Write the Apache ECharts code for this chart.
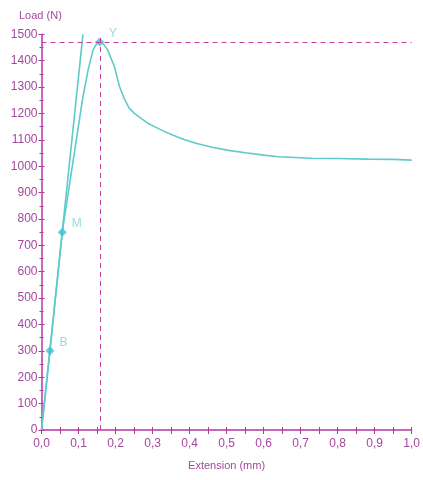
<!DOCTYPE html>
<html>
<head>
<meta charset="utf-8">
<title>Load / Extension</title>
<script src="https://cdn.jsdelivr.net/npm/echarts@6.0.0/dist/echarts.min.js"></script>
<style>
  html, body { margin: 0; padding: 0; background: #fff; }
</style>
</head>
<body>
<div id="main" style="width:423px;height:480px;"></div>
<script type="text/javascript">
// load curve (extension mm, load N)
var curveX = [0, 0.023, 0.056, 0.080, 0.105, 0.112, 0.126, 0.139, 0.148, 0.157, 0.168, 0.179, 0.197, 0.211, 0.224, 0.236, 0.251, 0.270, 0.287, 0.305, 0.330, 0.354, 0.385, 0.417, 0.461, 0.505, 0.551, 0.600, 0.640, 0.730, 0.800, 0.882, 0.950, 1.000];
var curveY = [0, 300, 750, 970, 1200, 1263, 1365, 1440, 1462, 1471, 1462, 1440, 1377, 1301, 1255, 1222, 1200, 1180, 1163, 1150, 1133, 1118, 1101, 1087, 1072, 1060, 1051, 1042, 1036, 1030, 1029, 1027, 1026, 1023];

// straight modulus line
var slopeX = [0, 0.112];
var slopeY = [0, 1500];

// marked points
var pointNames = ['B', 'M', 'Y'];
var pointX = [0.023, 0.056, 0.157];
var pointY = [300, 750, 1471];

var axisCol = '#b8369f';
var textCol = '#a4489c';
var lineCol = '#5fcaca';
var markCol = '#3dbfd2';
var dashCol = '#c8409f';

function zip(a, b) {
  var out = [];
  for (var i = 0; i < a.length; i++) out.push([a[i], b[i]]);
  return out;
}

var chart = echarts.init(document.getElementById('main'));

var pts = [];
for (var i = 0; i < pointNames.length; i++) {
  pts.push({ name: pointNames[i], value: [pointX[i], pointY[i]] });
}

var fmtX = function (v) { return v.toFixed(1).replace('.', ','); };
var fmtY = function (v) { return String(v); };

var dashStyle = { color: dashCol, type: [5, 4], width: 1 };

var option = {
  animation: false,
  title: {
    text: 'Load (N)',
    left: 14,
    top: 5,
    textStyle: { color: textCol, fontSize: 11, fontWeight: 'normal', fontFamily: 'Liberation Sans' }
  },
  grid: { left: 41.5, right: 9, top: 34.3, bottom: 50 },
  xAxis: [
    {
      type: 'value', min: 0, max: 1, interval: 0.1,
      name: 'Extension (mm)', nameLocation: 'middle', nameGap: 30,
      nameTextStyle: { color: textCol, fontSize: 11, fontFamily: 'Liberation Sans' },
      axisLine: { show: true, onZero: false, lineStyle: { color: axisCol, width: 1.5 } },
      axisTick: { show: true, length: 4, lineStyle: { color: axisCol } },
      minorTick: { show: true, splitNumber: 2, length: 4, lineStyle: { color: axisCol } },
      splitLine: { show: false },
      axisLabel: { color: textCol, fontSize: 12, fontFamily: 'Liberation Sans', margin: 8, formatter: fmtX }
    },
    {
      // inner half of the crossing ticks
      type: 'value', min: 0, max: 1, interval: 0.1, position: 'bottom',
      axisLine: { show: false },
      axisTick: { show: true, inside: true, length: 3, lineStyle: { color: axisCol } },
      minorTick: { show: true, splitNumber: 2, length: 3, lineStyle: { color: axisCol } },
      splitLine: { show: false },
      axisLabel: { show: false }
    }
  ],
  yAxis: [
    {
      type: 'value', min: 0, max: 1500, interval: 100,
      axisLine: { show: true, onZero: false, lineStyle: { color: axisCol, width: 1.5 } },
      axisTick: { show: true, length: 3, lineStyle: { color: axisCol } },
      minorTick: { show: true, splitNumber: 2, length: 2, lineStyle: { color: axisCol } },
      splitLine: { show: false },
      axisLabel: { color: textCol, fontSize: 12, fontFamily: 'Liberation Sans', margin: 4, formatter: fmtY }
    },
    {
      type: 'value', min: 0, max: 1500, interval: 100, position: 'left',
      axisLine: { show: false },
      axisTick: { show: true, inside: true, length: 3, lineStyle: { color: axisCol } },
      minorTick: { show: true, splitNumber: 2, length: 2, lineStyle: { color: axisCol } },
      splitLine: { show: false },
      axisLabel: { show: false }
    }
  ],
  series: [
    {
      name: 'curve',
      type: 'line',
      data: zip(curveX, curveY),
      showSymbol: false,
      smooth: false,
      lineStyle: { color: lineCol, width: 1.6 },
      z: 3
    },
    {
      name: 'slope',
      type: 'line',
      data: zip(slopeX, slopeY),
      showSymbol: false,
      lineStyle: { color: lineCol, width: 1.6 },
      z: 3
    },
    {
      name: 'points',
      type: 'scatter',
      data: pts,
      symbol: 'diamond',
      symbolSize: 9,
      itemStyle: { color: markCol },
      label: {
        show: true, position: 'right', offset: [0, -8],
        formatter: '{b}', color: '#7fcfd8', fontSize: 12, fontFamily: 'Liberation Sans'
      },
      markLine: {
        silent: true,
        symbol: 'none',
        label: { show: false },
        lineStyle: dashStyle,
        data: [
          { yAxis: pointY[2], lineStyle: dashStyle },
          { xAxis: pointX[2], lineStyle: dashStyle }
        ]
      },
      z: 4
    }
  ]
};

chart.setOption(option);
</script>
</body>
</html>
